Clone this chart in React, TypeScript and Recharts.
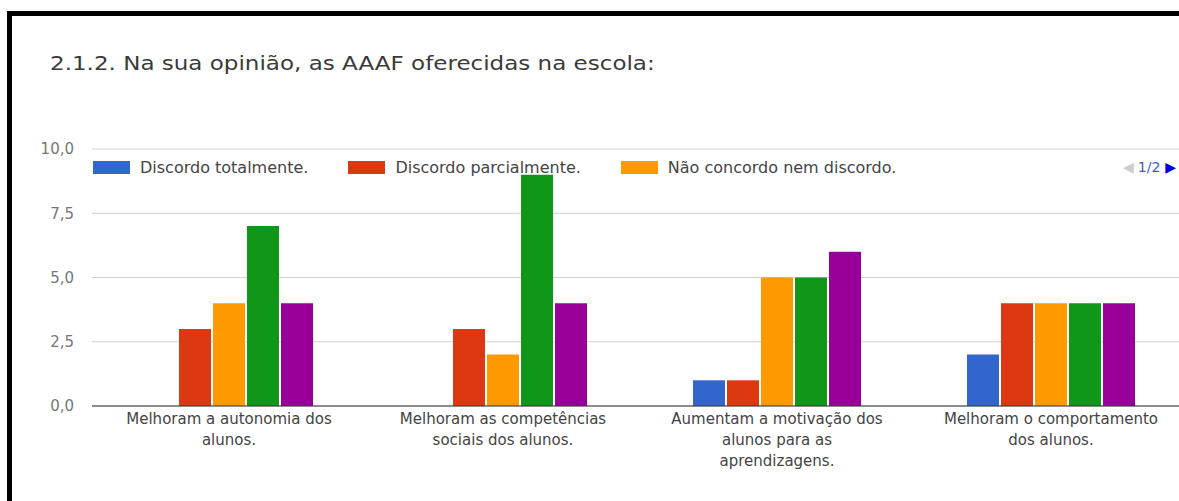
import React from "react";
import { BarChart, Bar, CartesianGrid, Legend, XAxis, YAxis } from "recharts";

const titleText = "2.1.2. Na sua opinião, as AAAF oferecidas na escola:";

const categories = [
  "Melhoram a autonomia dos alunos.",
  "Melhoram as competências sociais dos alunos.",
  "Aumentam a motivação dos alunos para as aprendizagens.",
  "Melhoram o comportamento dos alunos.",
];

const seriesNames = [
  "Discordo totalmente.",
  "Discordo parcialmente.",
  "Não concordo nem discordo.",
  "Concordo parcialmente.",
  "Concordo totalmente.",
];

const seriesColors = ["#3366cc", "#dc3912", "#ff9900", "#109618", "#990099"];

const discordoTotalmente = [0, 0, 1, 2];
const discordoParcialmente = [3, 3, 1, 4];
const naoConcordoNemDiscordo = [4, 2, 5, 4];
const concordoParcialmente = [7, 9, 5, 4];
const concordoTotalmente = [4, 4, 6, 4];

const yTicks = [0, 2.5, 5, 7.5, 10];

const seriesValues = [
  discordoTotalmente,
  discordoParcialmente,
  naoConcordoNemDiscordo,
  concordoParcialmente,
  concordoTotalmente,
];

const data = categories.map((category, i) => {
  const row: Record<string, string | number> = { category };
  seriesValues.forEach((vals, s) => {
    row["s" + s] = vals[i];
  });
  return row;
});

const FONT = "'DejaVu Sans', sans-serif";

// greedy word wrap, ~24 chars per line like the original
function wrapLabel(label: string, max = 24): string[] {
  const words = label.split(" ");
  const lines: string[] = [];
  let cur = "";
  for (const w of words) {
    const next = cur ? cur + " " + w : w;
    if (next.length > max && cur) {
      lines.push(cur);
      cur = w;
    } else {
      cur = next;
    }
  }
  if (cur) lines.push(cur);
  return lines;
}

const CategoryTick = (props: any) => {
  const { x, y, payload } = props;
  const lines = wrapLabel(String(payload.value));
  return (
    <text x={x} y={y} textAnchor="middle" fill="#444" fontSize={15} fontFamily={FONT}>
      {lines.map((line, i) => (
        <tspan key={i} x={x} dy={i === 0 ? 10 : 21}>
          {line}
        </tspan>
      ))}
    </text>
  );
};

// only the first legend page (1/2) is shown, in series order
const LegendContent = (props: any) => {
  const items = [...(props.payload || [])]
    .sort((a: any, b: any) => seriesNames.indexOf(a.value) - seriesNames.indexOf(b.value))
    .slice(0, 3);
  return (
    <div style={{ position: "relative", height: 20, fontFamily: FONT, fontSize: 16, color: "#444" }}>
      <div style={{ display: "flex", alignItems: "center", height: 20 }}>
        {items.map((item: any, i: number) => (
          <div key={i} style={{ display: "flex", alignItems: "center", marginRight: 40 }}>
            <span style={{ display: "inline-block", width: 37, height: 13, background: item.color, marginRight: 10 }} />
            <span>{item.value}</span>
          </div>
        ))}
      </div>
      <div style={{ position: "absolute", left: 1030, top: 0, height: 20, display: "flex", alignItems: "center", fontSize: 14 }}>
        <span style={{ color: "#ccc", fontSize: 14, marginRight: 4 }}>◀</span>
        <span style={{ color: "#3d5fc0" }}>1/2</span>
        <span style={{ color: "#0000dd", fontSize: 14, marginLeft: 5 }}>▶</span>
      </div>
    </div>
  );
};

export default function App() {
  return (
    <div
      style={{
        position: "absolute",
        left: 0,
        top: 0,
        width: 1179,
        height: 501,
        overflow: "hidden",
        background: "#fff",
        fontFamily: FONT,
      }}
    >
      <div
        style={{
          position: "absolute",
          left: 7,
          top: 11,
          width: 1200,
          height: 520,
          borderTop: "5px solid #000",
          borderLeft: "5px solid #000",
        }}
      />
      <div
        style={{
          position: "absolute",
          left: 50,
          top: 54,
          fontSize: 19.5,
          lineHeight: "20px",
          color: "#3a3a3a",
          whiteSpace: "nowrap",
          transform: "scaleX(1.18)",
          transformOrigin: "left",
        }}
      >
        {titleText}
      </div>
      <div style={{ position: "absolute", left: 0, top: 0 }}>
        <BarChart
          width={1200}
          height={501}
          data={data}
          margin={{ top: 149, right: 12, bottom: 35, left: 0 }}
          barSize={32}
          barGap={2}
        >
          <CartesianGrid vertical={false} stroke="#d0d0d0" />
          <XAxis
            dataKey="category"
            interval={0}
            tickLine={false}
            axisLine={{ stroke: "#333" }}
            height={60}
            tick={<CategoryTick />}
          />
          <YAxis
            domain={[0, 10]}
            ticks={yTicks}
            axisLine={false}
            tickLine={false}
            width={92}
            tickMargin={12}
            tick={{ fill: "#777", fontSize: 15, fontFamily: FONT }}
            tickFormatter={(v: number) => v.toFixed(1).replace(".", ",")}
          />
          <Legend
            layout="horizontal"
            verticalAlign="middle"
            align="center"
            wrapperStyle={{ top: 157, left: 93, width: 1100, height: 20 }}
            content={<LegendContent />}
          />
          {seriesNames.map((name, s) => (
            <Bar key={name} dataKey={"s" + s} name={name} fill={seriesColors[s]} isAnimationActive={false} />
          ))}
        </BarChart>
      </div>
    </div>
  );
}
